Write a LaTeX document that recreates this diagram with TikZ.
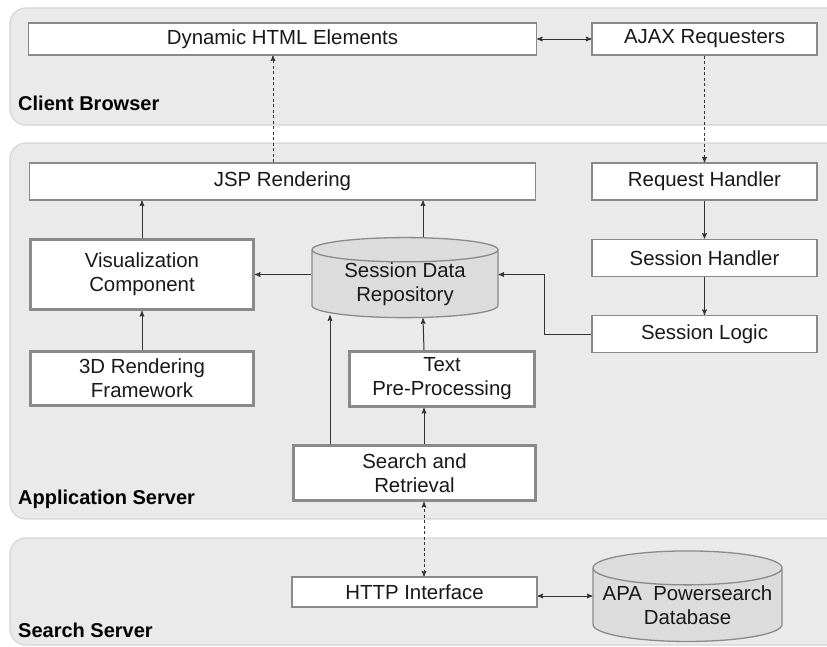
\documentclass[tikz,border=0pt]{standalone}
\usepackage{fontspec}
\setmainfont{Liberation Sans}
\usetikzlibrary{arrows,positioning,shapes.geometric}
\definecolor{tierfill}{HTML}{EAEAEA}
\definecolor{tierline}{HTML}{D6D6D6}
\definecolor{boxline}{HTML}{8A8A8A}
\definecolor{storefill}{HTML}{DCDCDC}
\tikzset{
    %Define standard arrow tip
    >=stealth',
    %Define style for the tiers
    tier/.style={
           draw=tierline,
           fill=tierfill,
           line width=1.2pt,
           rounded corners=16pt,
           },
    tierlabel/.style={
           anchor=west,
           inner sep=0pt,
           font=\fontsize{20}{24}\selectfont\bfseries,
           },
    %Define style for boxes
    module/.style={
           rectangle,
           draw=boxline,
           fill=white,
           line width=1.3pt,
           inner sep=0pt,
           align=center,
           text=black!90,
           font=\fontsize{20.4}{24}\selectfont,
           },
    heavymodule/.style={
           module,
           line width=3pt,
           },
    store/.style={
           cylinder,
           shape border rotate=90,
           aspect=0.2,
           draw=boxline,
           fill=storefill,
           line width=1.3pt,
           inner sep=0pt,
           align=center,
           text=black!90,
           font=\fontsize{20.4}{24}\selectfont,
           },
    % Define arrow style
    flow/.style={
           ->,
           line width=1pt,
           black!80,
           },
    linkdash/.style={
           dash pattern=on 3pt off 2.5pt,
           },
}
\begin{document}
\begin{tikzpicture}[x=1pt,y=-1pt]
\useasboundingbox (0,0) rectangle (827,646);
% tiers
\draw[tier] (10,8) rectangle (845,125);
\draw[tier] (10,143) rectangle (845,519);
\draw[tier] (10,538) rectangle (845,645);
\node[tierlabel] (cbl) at (18,103) {Client Browser};
\node[tierlabel] (asl) at (18,499) {Application Server};
\node[tierlabel] (ssl) at (18,630) {Search Server};
% client browser
\node[module, minimum width=508pt, minimum height=32pt] (dyn) at (282.5,39) {Dynamic HTML Elements};
\node[module, minimum width=225pt, minimum height=32pt] (ajax) at (704.5,39) {AJAX Requesters};
% application server
\node[module, minimum width=506pt, minimum height=37pt] (jsp) at (282.5,181.5) {JSP Rendering};
\node[module, minimum width=225pt, minimum height=37pt] (req) at (704.5,181.5) {Request Handler};
\node[module, minimum width=225pt, minimum height=37pt, below=38pt of req] (sesh) {Session Handler};
\node[module, minimum width=225pt, minimum height=37pt, below=38pt of sesh] (slog) {Session Logic};
\node[heavymodule, minimum width=223pt, minimum height=70pt] (vis) at (142,274.5) {Visualization\\Component};
\node[heavymodule, minimum width=223pt, minimum height=54pt, below=39pt of vis] (frame) {3D Rendering\\Framework};
\node[store, minimum width=186pt, minimum height=75pt] (sdr) at (405,284) {Session Data\\Repository};
\node[heavymodule, minimum width=185pt, minimum height=55pt] (pre) at (442,379) {Text\\Pre-Processing};
\node[heavymodule, minimum width=242pt, minimum height=55pt] (search) at (414.5,473) {Search and\\Retrieval};
% search server
\node[module, minimum width=245pt, minimum height=30pt] (http) at (414.5,592) {HTTP Interface};
\node[store, minimum width=189pt, minimum height=75pt] (apa) at (687.5,605) {APA~~Powersearch\\Database};
% connectors
\draw[flow, <->] (dyn) -- (ajax);
\draw[flow, linkdash] (ajax) -- (req);
\draw[flow, linkdash] ([xshift=-9.5pt]jsp.north) -- ([xshift=-9.5pt]dyn.south);
\draw[flow] (vis.north) -- (vis.north |- jsp.south);
\draw[flow] (frame) -- (vis);
\draw[flow] ([xshift=18pt]sdr.north) -- ([xshift=18pt]sdr.north |- jsp.south);
\draw[flow] (sdr.west |- vis.east) -- (vis.east);
\draw[flow] (slog.west) -- ++(-47,0) |- (sdr.east |- vis.east);
\draw[flow] (req) -- (sesh);
\draw[flow] (sesh) -- (slog);
\draw[flow] ([xshift=-18pt]pre.north) -- ([xshift=18pt]sdr.south);
\draw[flow] ([xshift=9.5pt]search.north) -- ([xshift=-18pt]pre.south);
\draw[flow] ([xshift=-84.5pt]search.north) -- ([xshift=-75pt,yshift=3pt]sdr.south);
\draw[flow, <->, linkdash] ([xshift=9.5pt]search.south) -- ([xshift=9.5pt]http.north);
\draw[flow, <->] ([yshift=-4pt]http.east) -- ([yshift=-4pt]http.east -| apa.west);
\end{tikzpicture}
\end{document}
